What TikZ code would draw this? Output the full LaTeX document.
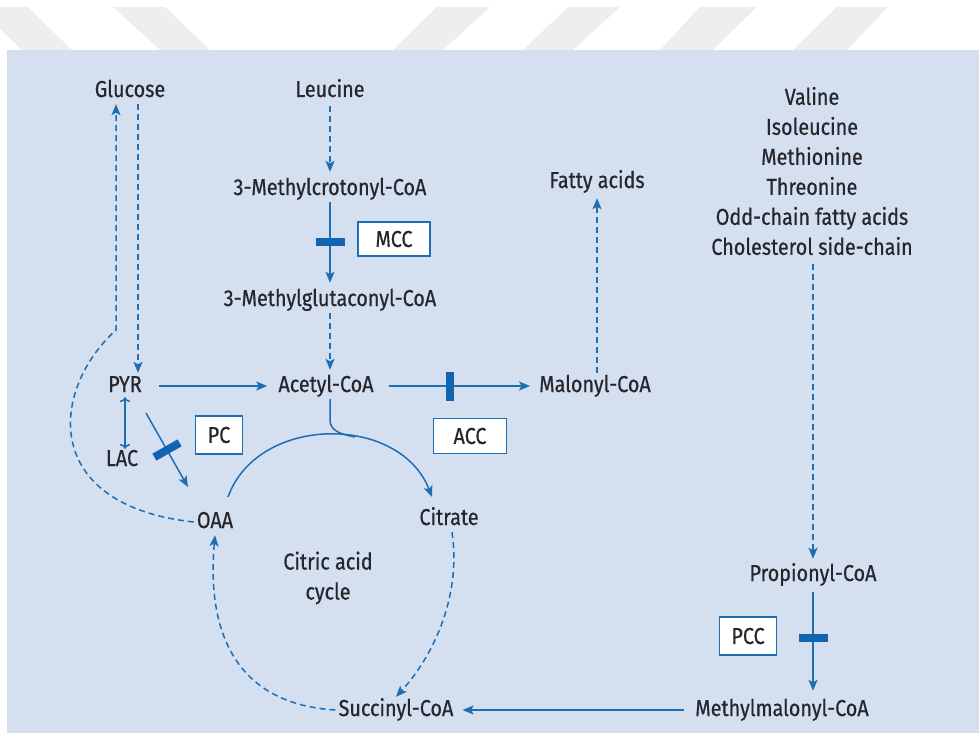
\documentclass[tikz,border=0pt]{standalone}
\usepackage{fontspec}
\setmainfont{Fira Sans}[FakeStretch=0.86, FakeBold=0.6]
\usetikzlibrary{arrows.meta}

\definecolor{bgblue}{RGB}{212,223,240}
\definecolor{flowblue}{RGB}{30,110,180}
\definecolor{barblue}{RGB}{18,100,176}
\definecolor{txtgray}{RGB}{38,38,45}
\definecolor{wmgray}{RGB}{238,238,238}

\tikzset{
  metab/.style={inner sep=3pt, text=txtgray, font=\fontsize{23}{30}\selectfont,
    text height=16pt, text depth=4pt},
  sources/.style={inner sep=3pt, text=txtgray, font=\fontsize{23}{30}\selectfont, align=center},
  enzyme/.style={draw=flowblue, fill=white, line width=1.4pt, text=txtgray,
    font=\fontsize{23}{30}\selectfont, minimum height=36pt, inner xsep=6pt},
  flow/.style={flowblue, line width=1.5pt, -{Stealth[length=11pt,width=9pt,inset=2.5pt]}},
  flowd/.style={flow, dash pattern=on 6pt off 4pt},
  blocker/.style={fill=barblue, inner sep=0pt, minimum width=8pt, minimum height=29pt, sloped},
}

\begin{document}
\begin{tikzpicture}[x=1pt, y=-1pt]
  \useasboundingbox (0,0) rectangle (979,733);

  % watermark stripes and panel
  \fill[wmgray] (-22,7) -- (28,7) -- (72,50) -- (22,50) -- cycle;
  \fill[wmgray] (113,7) -- (165,7) -- (210,50) -- (160,50) -- cycle;
  \fill[wmgray] (437,7) -- (490,7) -- (443,50) -- (393,50) -- cycle;
  \fill[wmgray] (568,7) -- (620,7) -- (573,50) -- (523,50) -- cycle;
  \fill[wmgray] (700,7) -- (757,7) -- (713,50) -- (660,50) -- cycle;
  \fill[wmgray] (837,7) -- (888,7) -- (847,50) -- (793,50) -- cycle;
  \fill[bgblue] (7,50) rectangle (979,733);

  % metabolites
  \node[metab] (glucose) at (130,91) {Glucose};
  \node[metab] (leucine) at (330,91) {Leucine};
  \node[metab] (mcr) at (330,189) {3-Methylcrotonyl-CoA};
  \node[metab] (mgc) at (330,300) {3-Methylglutaconyl-CoA};
  \node[metab] (fatty) at (597,182) {Fatty acids};
  \node[metab] (pyr) at (125,386) {PYR};
  \node[metab] (acetyl) at (326,386) {Acetyl-CoA};
  \node[metab] (malonyl) at (595,386) {Malonyl-CoA};
  \node[metab] (lac) at (122,460) {LAC};
  \node[metab] (oaa) at (215,522) {OAA};
  \node[metab] (citrate) at (449,519) {Citrate};
  \node[metab, align=center, text height=, text depth=] (tca) at (328,578) {Citric acid\\cycle};
  \node[metab] (propionyl) at (813,575) {Propionyl-CoA};
  \node[metab] (succinyl) at (396,710) {Succinyl-CoA};
  \node[metab] (mmcoa) at (782,710) {Methylmalonyl-CoA};
  \node[sources] (aminos) at (812,171) {Valine\\Isoleucine\\Methionine\\Threonine\\Odd-chain fatty acids\\Cholesterol side-chain};

  % enzymes
  \node[enzyme, minimum width=72pt, minimum height=34pt] (mcc) at (394,239) {MCC};
  \node[enzyme, minimum width=47pt, minimum height=38pt] (pc) at (219,435) {PC};
  \node[enzyme, minimum width=73pt, minimum height=35pt] (acc) at (470,436) {ACC};
  \node[enzyme, minimum width=57pt, minimum height=38pt] (pcc) at (748,636) {PCC};

  % helper points
  \coordinate (gbend) at (116,330);
  \coordinate (gdown) at (138,0);
  \coordinate (pcstart) at (146,413);
  \coordinate (pcend) at (188,487);
  \coordinate (arcstart) at (228,497);
  \coordinate (arcend) at (432,497);
  \coordinate (join) at (355,437);

  % connectors
  \draw[flowd] (oaa.west) .. controls (40,505) and (50,390) .. (gbend) -- (gbend |- glucose.south);
  \draw[flowd] (glucose.south -| gdown) -- (pyr.north -| gdown);
  \draw[flowd, shorten <=2pt, shorten >=4pt] (leucine) -- (mcr);
  \draw[flow, shorten >=4pt] (mcr) -- node[blocker, pos=0.47] {} (mgc);
  \draw[flowd, shorten >=3pt] (mgc) -- (mgc |- acetyl.north);
  \draw[flow, shorten <=14pt, shorten >=8pt] (pyr) -- (acetyl);
  \draw[flow, shorten <=12pt, shorten >=6pt] (acetyl) -- node[blocker, pos=0.46] {} (malonyl);
  \draw[flowd, shorten >=3pt] (malonyl.north -| fatty) -- (fatty);
  \draw[flow, <->, shorten <=-2pt, shorten >=-2pt] (pyr) -- (pyr |- lac.north);
  \draw[flow] (pcstart) -- node[blocker] {} (pcend);
  \draw[flow] (arcstart) .. controls (258,414) and (400,414) .. (arcend);
  \draw[flowblue, line width=1.5pt] (acetyl.south -| 330,0) -- (330,420) .. controls (330,430) and (339,434) .. (join);
  \draw[flowd] (citrate.south) ++(3,0) .. controls (462,600) and (430,660) .. (succinyl.north);
  \draw[flowd] (succinyl.west) .. controls (250,705) and (205,650) .. (oaa.south);
  \draw[flowd, shorten <=6pt, shorten >=3pt] (aminos.south -| propionyl) -- (propionyl);
  \draw[flow, shorten <=4pt, shorten >=6pt] (propionyl) -- node[blocker, pos=0.46] {} (mmcoa.north -| propionyl);
  \draw[flow, shorten <=8pt, shorten >=6pt] (mmcoa) -- (succinyl);
\end{tikzpicture}
\end{document}
